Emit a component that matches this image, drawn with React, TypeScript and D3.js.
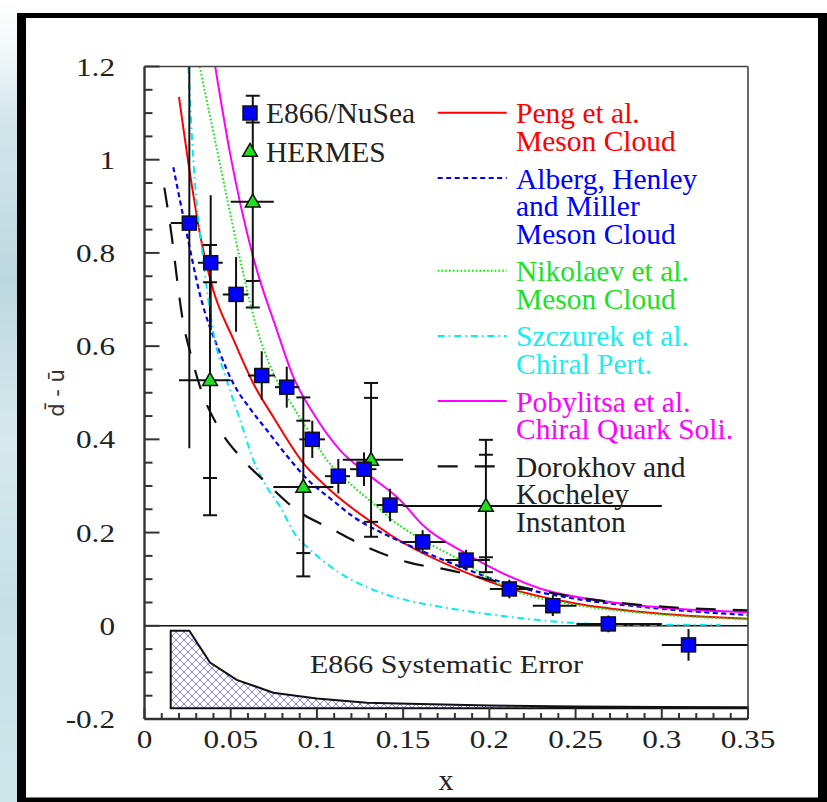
import * as d3 from "d3";
import React from "react";

const WIDTH = 827;
const HEIGHT = 802;

// axes
const xDomain = [0, 0.35];
const yDomain = [-0.2, 1.2];
const xTickValues = [0, 0.05, 0.1, 0.15, 0.2, 0.25, 0.3, 0.35];
const xTickLabels = ["0", "0.05", "0.1", "0.15", "0.2", "0.25", "0.3", "0.35"];
const yTickValues = [-0.2, 0, 0.2, 0.4, 0.6, 0.8, 1, 1.2];
const yTickLabels = ["-0.2", "0", "0.2", "0.4", "0.6", "0.8", "1", "1.2"];

// E866/NuSea points: x, bin edges, value, stat. error
const e866X = [0.026, 0.0384, 0.0531, 0.068, 0.0825, 0.0973, 0.1124, 0.1273, 0.1424, 0.1613, 0.1865, 0.2116, 0.2368, 0.269, 0.3155];
const e866XLo = [0.0152, 0.031, 0.0454, 0.06, 0.0757, 0.0898, 0.1047, 0.1192, 0.1345, 0.15, 0.1745, 0.2003, 0.2252, 0.2505, 0.3];
const e866XHi = [0.031, 0.0454, 0.06, 0.0757, 0.0898, 0.1047, 0.1192, 0.1345, 0.15, 0.1745, 0.2003, 0.2252, 0.2505, 0.3, 0.35];
const e866Y = [0.864, 0.779, 0.711, 0.537, 0.512, 0.4, 0.321, 0.336, 0.259, 0.18, 0.141, 0.079, 0.043, 0.004, -0.041];
const e866Err = [0.483, 0.145, 0.08, 0.052, 0.044, 0.04, 0.037, 0.036, 0.035, 0.025, 0.022, 0.02, 0.022, 0.018, 0.034];

// HERMES points: x, bin edges, value, stat. and total error
const hermesX = [0.038, 0.0628, 0.0921, 0.1314, 0.198];
const hermesXLo = [0.02, 0.05, 0.0747, 0.115, 0.15];
const hermesXHi = [0.05, 0.075, 0.1095, 0.15, 0.3];
const hermesY = [0.527, 0.91, 0.298, 0.356, 0.257];
const hermesStat = [0.21, 0.17, 0.142, 0.133, 0.11];
const hermesTot = [0.29, 0.227, 0.192, 0.165, 0.142];

// model curves [x, dbar-ubar]
const peng = [[0.02, 1.135], [0.0264, 0.97], [0.0322, 0.84], [0.0399, 0.72], [0.0515, 0.615], [0.0631, 0.52], [0.0747, 0.448], [0.0921, 0.349], [0.1057, 0.298], [0.1192, 0.256], [0.1327, 0.22], [0.1443, 0.191], [0.1866, 0.114], [0.21, 0.082], [0.25, 0.048], [0.29, 0.029], [0.35, 0.015]];
const alberg = [[0.0167, 0.984], [0.0245, 0.842], [0.0322, 0.71], [0.0438, 0.585], [0.0515, 0.52], [0.0612, 0.466], [0.0709, 0.42], [0.0825, 0.365], [0.094, 0.316], [0.1095, 0.268], [0.1211, 0.234], [0.1385, 0.198], [0.152, 0.175], [0.183, 0.127], [0.21, 0.09], [0.25, 0.058], [0.29, 0.04], [0.35, 0.023]];
const nikolaev = [[0.032, 1.2], [0.0438, 0.99], [0.0564, 0.77], [0.065, 0.64], [0.0747, 0.542], [0.0854, 0.475], [0.096, 0.413], [0.1057, 0.356], [0.119, 0.306], [0.1347, 0.256], [0.1443, 0.225], [0.152, 0.205], [0.183, 0.141], [0.21, 0.082], [0.25, 0.045], [0.29, 0.027], [0.35, 0.014]];
const szczurek = [[0.0254, 1.2], [0.0283, 1.0], [0.0341, 0.785], [0.0399, 0.63], [0.0477, 0.527], [0.0554, 0.442], [0.0631, 0.356], [0.0709, 0.298], [0.0786, 0.256], [0.0883, 0.191], [0.094, 0.17], [0.1134, 0.113], [0.1327, 0.077], [0.152, 0.055], [0.1714, 0.041], [0.21, 0.02], [0.249, 0.006], [0.287, 0.002], [0.334, 0.002]];
const pobylitsa = [[0.041, 1.2], [0.0496, 1.014], [0.0631, 0.79], [0.0767, 0.635], [0.0863, 0.534], [0.0979, 0.456], [0.1134, 0.377], [0.1289, 0.327], [0.1482, 0.27], [0.1617, 0.215], [0.1865, 0.155], [0.2294, 0.08], [0.268, 0.052], [0.3067, 0.037], [0.35, 0.029]];
const dorokhov = [[0.0115, 0.94], [0.016, 0.83], [0.019, 0.74], [0.022, 0.66], [0.027, 0.58], [0.0322, 0.513], [0.0438, 0.42], [0.0554, 0.363], [0.0709, 0.306], [0.0883, 0.248], [0.1095, 0.206], [0.13, 0.167], [0.153, 0.136], [0.176, 0.12], [0.21, 0.09], [0.249, 0.062], [0.287, 0.045], [0.35, 0.033]];

// E866 systematic error band (drawn from a base level)
const sysX = [0.0152, 0.026, 0.038, 0.0535, 0.0747, 0.0999, 0.129, 0.16, 0.2, 0.25, 0.3, 0.35];
const sysTop = [-0.0105, -0.0105, -0.079, -0.116, -0.1435, -0.156, -0.165, -0.168, -0.171, -0.173, -0.1745, -0.175];
const sysBase = -0.177;

const modelLabels = [
  ["Peng et al.", "Meson Cloud"],
  ["Alberg, Henley", "and Miller", "Meson Cloud"],
  ["Nikolaev et al.", "Meson Cloud"],
  ["Szczurek et al.", "Chiral Pert."],
  ["Pobylitsa et al.", "Chiral Quark Soli."],
  ["Dorokhov and", "Kocheley", "Instanton"],
];
const modelCurves = [peng, alberg, nikolaev, szczurek, pobylitsa, dorokhov];
const modelStyles = [
  { stroke: "#ff0000", text: "#ff0000", dash: null, width: 2 },
  { stroke: "#0000ff", text: "#0000ff", dash: "5,3.5", width: 2.2 },
  { stroke: "#00ee00", text: "#22e022", dash: "1.6,2.2", width: 2 },
  { stroke: "#00eeee", text: "#19eeee", dash: "7,4,1.6,4", width: 2 },
  { stroke: "#ff00ff", text: "#ff00ff", dash: null, width: 2 },
  { stroke: "#111111", text: "#222222", dash: "20,17", width: 2.2 },
];

const serif = '"Liberation Serif", "Times New Roman", Times, serif';

export default function App() {
  const left = 144.5, right = 748, top = 66.5, bottom = 719;
  const x = d3.scaleLinear().domain(xDomain).range([left, right]);
  const y = d3.scaleLinear().domain(yDomain).range([bottom, top]);

  const line = d3.line<number[]>()
    .x((d) => x(d[0]))
    .y((d) => y(d[1]))
    .curve(d3.curveMonotoneX);

  const sysArea = d3.area<number>()
    .x((_v, i) => x(sysX[i]))
    .y0(y(sysBase))
    .y1((v) => y(v));
  const sysOutline = d3.line<number>()
    .x((_v, i) => x(sysX[i]))
    .y((v) => y(v));

  const triangle = d3.symbol(d3.symbolTriangle, 95)();

  const xMinor = d3.range(0, 0.3501, 0.01).filter((v) => Math.abs(v / 0.05 - Math.round(v / 0.05)) > 1e-6);
  const yMinor = d3.range(-0.2, 1.2001, 0.05).filter((v) => Math.abs(v / 0.2 - Math.round(v / 0.2)) > 1e-6);

  // legend layout
  let baseline = 123.3;
  const legendRows = modelLabels.map((lines, i) => {
    const row = { lines, first: baseline, style: modelStyles[i] };
    baseline += lines.length * 27.5 + 10.2;
    return row;
  });

  const cap = 7;

  return (
    <div style={{ position: "absolute", left: 0, top: 0 }}>
      <svg width={WIDTH} height={HEIGHT} style={{ display: "block", fontFamily: serif }}>
        <defs>
          <linearGradient id="slideBg" x1="0" y1="0" x2="0" y2="1">
            <stop offset="0%" stopColor="#ffffff" />
            <stop offset="6%" stopColor="#f3f8f9" />
            <stop offset="15%" stopColor="#d2e6eb" />
            <stop offset="35%" stopColor="#bcd8e0" />
            <stop offset="55%" stopColor="#d6e9ed" />
            <stop offset="75%" stopColor="#c4e0e6" />
            <stop offset="100%" stopColor="#cde6ea" />
          </linearGradient>
          <pattern id="hatch" width="8" height="8" patternUnits="userSpaceOnUse">
            <path d="M0,0 L8,8 M8,0 L0,8" stroke="#6666ff" strokeWidth={0.8} />
          </pattern>
          <clipPath id="plotClip">
            <rect x={left} y={top} width={right - left} height={bottom - top} />
          </clipPath>
        </defs>

        {/* slide background and frame */}
        <rect x={0} y={0} width={WIDTH} height={HEIGHT} fill="#ffffff" />
        <rect x={0} y={0} width={17} height={HEIGHT} fill="url(#slideBg)" />
        <rect x={17} y={13} width={WIDTH - 17} height={HEIGHT - 13} fill="#000000" />
        <rect x={26} y={18} width={818 - 26} height={797.5 - 18} fill="#ffffff" />

        {/* systematic error band */}
        <path d={sysArea(sysTop) || ""} fill="url(#hatch)" stroke="none" />
        <path
          d={`${sysOutline(sysTop)}L${x(sysX[sysX.length - 1])},${y(sysBase)}L${x(sysX[0])},${y(sysBase)}Z`}
          fill="none"
          stroke="#111"
          strokeWidth={2}
        />
        <text
          transform={`translate(446.5,673) scale(1.2,1)`}
          textAnchor="middle"
          fontSize={25}
          fill="#222"
        >
          E866 Systematic Error
        </text>

        {/* zero line */}
        <line x1={left} x2={right} y1={y(0)} y2={y(0)} stroke="#111" strokeWidth={1.6} />

        {/* model curves */}
        <g clipPath="url(#plotClip)">
          {modelCurves.map((c, i) => (
            <path
              key={i}
              d={line(c) || ""}
              fill="none"
              stroke={modelStyles[i].stroke}
              strokeWidth={modelStyles[i].width}
              strokeDasharray={modelStyles[i].dash || undefined}
            />
          ))}
        </g>

        {/* error bars */}
        <g clipPath="url(#plotClip)" stroke="#111" strokeWidth={2}>
          {hermesX.map((v, i) => (
            <g key={"h" + i}>
              <line x1={x(hermesXLo[i])} x2={x(hermesXHi[i])} y1={y(hermesY[i])} y2={y(hermesY[i])} />
              <line x1={x(v)} x2={x(v)} y1={y(hermesY[i] - hermesTot[i])} y2={y(hermesY[i] + hermesTot[i])} />
              {[hermesY[i] - hermesTot[i], hermesY[i] - hermesStat[i], hermesY[i] + hermesStat[i], hermesY[i] + hermesTot[i]].map((e, j) => (
                <line key={j} x1={x(v) - cap} x2={x(v) + cap} y1={y(e)} y2={y(e)} />
              ))}
            </g>
          ))}
          {e866X.map((v, i) => (
            <g key={"e" + i}>
              <line x1={x(e866XLo[i])} x2={x(e866XHi[i])} y1={y(e866Y[i])} y2={y(e866Y[i])} />
              <line x1={x(v)} x2={x(v)} y1={y(e866Y[i] - e866Err[i])} y2={y(e866Y[i] + e866Err[i])} />
            </g>
          ))}
        </g>

        {/* markers */}
        {hermesX.map((v, i) => (
          <path key={"ht" + i} d={triangle || ""} transform={`translate(${x(v)},${y(hermesY[i]) + 1})`} fill="#1ee01e" stroke="#111" strokeWidth={1.5} />
        ))}
        {e866X.map((v, i) => (
          <rect key={"es" + i} x={x(v) - 7} y={y(e866Y[i]) - 7} width={14} height={14} fill="#0000ff" stroke="#111" strokeWidth={1.5} />
        ))}

        {/* data legend */}
        <rect x={243} y={106} width={14} height={14} fill="#0000ff" stroke="#111" strokeWidth={1.5} />
        <path d={triangle || ""} transform="translate(250,152)" fill="#1ee01e" stroke="#111" strokeWidth={1.5} />
        <text x={266} y={123.3} fontSize={29.5} fill="#222">E866/NuSea</text>
        <text x={266} y={161.7} fontSize={29.5} fill="#222">HERMES</text>

        {/* model legend */}
        {legendRows.map((row, i) => (
          <g key={"l" + i}>
            <line
              x1={437.7}
              x2={506.7}
              y1={row.first - 10.5}
              y2={row.first - 10.5}
              stroke={row.style.stroke}
              strokeWidth={row.style.width}
              strokeDasharray={row.style.dash || undefined}
            />
            {row.lines.map((t, j) => (
              <text key={j} x={516} y={row.first + j * 27.5} fontSize={29.5} fill={row.style.text}>
                {t}
              </text>
            ))}
          </g>
        ))}

        {/* axes frame */}
        <line x1={left} x2={left} y1={top} y2={bottom} stroke="#333" strokeWidth={2.4} />
        <line x1={left} x2={right} y1={bottom} y2={bottom} stroke="#333" strokeWidth={2.4} />
        <line x1={left} x2={right} y1={top} y2={top} stroke="#444" strokeWidth={1.6} />
        <line x1={right} x2={right} y1={top} y2={bottom} stroke="#444" strokeWidth={1.6} />

        {/* ticks */}
        <g stroke="#333" strokeWidth={2}>
          {yTickValues.map((v) => (
            <line key={"yt" + v} x1={left} x2={left + 15} y1={y(v)} y2={y(v)} />
          ))}
          {yMinor.map((v) => (
            <line key={"ym" + v} x1={left} x2={left + 8} y1={y(v)} y2={y(v)} />
          ))}
          {xTickValues.map((v) => (
            <line key={"xt" + v} x1={x(v)} x2={x(v)} y1={bottom} y2={bottom - 11} />
          ))}
          {xMinor.map((v) => (
            <line key={"xm" + v} x1={x(v)} x2={x(v)} y1={bottom} y2={bottom - 6} />
          ))}
        </g>

        {/* tick labels */}
        {yTickValues.map((v, i) => (
          <text key={"yl" + v} transform={`translate(115,${y(v) + 9}) scale(1.2,1)`} textAnchor="end" fontSize={26} fill="#222">
            {yTickLabels[i]}
          </text>
        ))}
        {xTickValues.map((v, i) => (
          <text key={"xl" + v} transform={`translate(${x(v)},748) scale(1.2,1)`} textAnchor="middle" fontSize={26} fill="#222">
            {xTickLabels[i]}
          </text>
        ))}

        {/* axis titles */}
        <text x={446} y={790} textAnchor="middle" fontSize={30} fill="#222">x</text>
        <text transform="translate(64,393) rotate(-90)" textAnchor="middle" style={{ fontFamily: '"DejaVu Sans", sans-serif' }} fontSize={21} fill="#333">
          {"d\u0304 - u\u0304"}
        </text>
      </svg>
    </div>
  );
}
